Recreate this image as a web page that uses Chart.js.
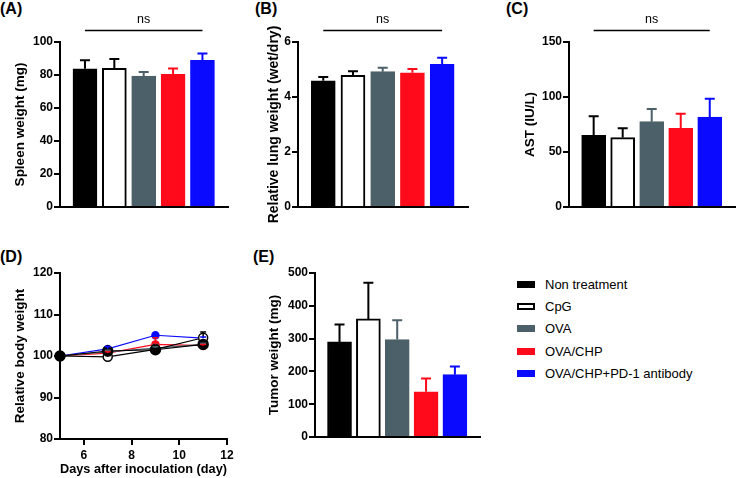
<!DOCTYPE html>
<html>
<head>
<meta charset="utf-8">
<script src="https://cdn.jsdelivr.net/npm/chart.js@4.4.0/dist/chart.umd.min.js"></script>
<style>
  body { margin: 0; background: #fff; width: 737px; height: 478px; position: relative; overflow: hidden; font-family: 'Liberation Sans', Arial, sans-serif; }
  canvas { position: absolute; }
  .tag { position: absolute; font-weight: bold; font-size: 16px; line-height: 18px; color: #000; }
  .legend { position: absolute; left: 517px; top: 273px; font-size: 13px; color: #000; }
  .legend .row { height: 22.3px; display: flex; align-items: center; }
  .legend .box { width: 18px; height: 7px; margin-right: 10px; box-sizing: border-box; }
</style>
</head>
<body>
<div class="tag" style="left:0;top:0">(A)</div>
<div class="tag" style="left:255px;top:0">(B)</div>
<div class="tag" style="left:506px;top:0">(C)</div>
<div class="tag" style="left:0;top:248px">(D)</div>
<div class="tag" style="left:253px;top:248px">(E)</div>
<canvas id="chartA"></canvas>
<canvas id="chartB"></canvas>
<canvas id="chartC"></canvas>
<canvas id="chartD"></canvas>
<canvas id="chartE"></canvas>
<div class="legend" id="legend"></div>
<script>
const groups = ['Non treatment', 'CpG', 'OVA', 'OVA/CHP', 'OVA/CHP+PD-1 antibody'];
const fills = ['#000000', '#ffffff', '#4c6069', '#ff0a1a', '#0a0aff'];
const edges = ['#000000', '#000000', '#4c6069', '#ff0a1a', '#0a0aff'];

// (A) spleen weight, (B) lung wet/dry, (C) AST, (E) tumor weight: mean and upper SD
const spleen = [83.8, 84.0, 79.4, 80.4, 88.9];
const spleenErr = [5.1, 5.7, 2.4, 3.6, 4.2];
const lung = [4.59, 4.79, 4.92, 4.88, 5.19];
const lungErr = [0.14, 0.15, 0.14, 0.14, 0.24];
const ast = [65.2, 63.1, 77.6, 71.5, 81.8];
const astErr = [17.2, 8.4, 11.4, 13.3, 16.6];
const tumor = [290, 360, 297, 138, 190];
const tumorErr = [53, 110, 59, 40, 25];

// (D) relative body weight by day
const days = [5, 7, 9, 11];
const dayTicks = [6, 8, 10, 12];
const bwNon = [100, 101.2, 101.5, 102.8];
const bwCpg = [100, 99.8, 101.6, 104.4];
const bwOva = [100, 101.0, 101.9, 102.8];
const bwChp = [100, 100.7, 102.8, 102.5];
const bwPd1 = [100, 101.7, 105.0, 104.3];
const bwNonErr = [0, 0.8, 0.4, 0.3];
const bwCpgErr = [0, 0.3, 0.3, 1.4];
const bwOvaErr = [0, 0.4, 0.3, 0.3];
const bwChpErr = [0, 0.3, 1.6, 0.3];
const bwPd1Err = [0, 0.5, 0.3, 0.3];

const bold = (size) => ({ family: "'Liberation Sans', Arial, sans-serif", weight: 'bold', size });

const errorBars = {
  id: 'errorBars',
  afterDatasetsDraw(chart) {
    const { ctx } = chart;
    const y = chart.scales.y;
    chart.data.datasets.forEach((ds, di) => {
      if (!ds.errors) return;
      const meta = chart.getDatasetMeta(di);
      meta.data.forEach((el, i) => {
        const err = ds.errors[i];
        if (!err) return;
        const v = typeof ds.data[i] === 'object' ? ds.data[i].y : ds.data[i];
        const top = y.getPixelForValue(v + err);
        const col = Array.isArray(ds.errColor) ? ds.errColor[i] : ds.errColor;
        ctx.save();
        ctx.strokeStyle = col;
        ctx.lineWidth = ds.errWidth || 2;
        ctx.beginPath();
        ctx.moveTo(el.x, el.y);
        ctx.lineTo(el.x, top);
        ctx.moveTo(el.x - ds.capHalf, top);
        ctx.lineTo(el.x + ds.capHalf, top);
        ctx.stroke();
        ctx.restore();
      });
    });
  },
};

const nsLine = {
  id: 'nsLine',
  afterDraw(chart) {
    const { ctx, chartArea } = chart;
    const x = chart.scales.x;
    const x0 = x.getPixelForValue(0);
    const x1 = x.getPixelForValue(4);
    const yy = chartArea.top - 11.5;
    ctx.save();
    ctx.strokeStyle = '#000';
    ctx.lineWidth = 1.5;
    ctx.beginPath();
    ctx.moveTo(x0, yy);
    ctx.lineTo(x1, yy);
    ctx.stroke();
    ctx.fillStyle = '#000';
    ctx.font = "12.5px 'Liberation Sans', Arial, sans-serif";
    ctx.textAlign = 'center';
    ctx.textBaseline = 'middle';
    ctx.fillText('ns', (x0 + x1) / 2, yy - 10.5);
    ctx.restore();
  },
};

function place(id, box) {
  const c = document.getElementById(id);
  c.width = box.w;
  c.height = box.h;
  c.style.left = box.x + 'px';
  c.style.top = box.y + 'px';
  return c;
}

function yAxis(box, area, max, step, title, titleSize, titlePad) {
  return {
    min: box.yMin || 0,
    max,
    ticks: { stepSize: step, color: '#000', font: bold(12), padding: 1 },
    grid: { drawOnChartArea: false, color: '#000', lineWidth: 2, tickLength: 6 },
    border: { display: true, color: '#000', width: 2 },
    title: { display: true, text: title, color: '#000', font: bold(titleSize), padding: { top: titlePad, bottom: 0 } },
    afterFit: (s) => { s.width = area.l - box.x; },
  };
}

function barPanel(id, box, area, values, errs, max, step, title, titleSize, titlePad, ns) {
  const canvas = place(id, box);
  return new Chart(canvas, {
    type: 'bar',
    data: {
      datasets: [{
        data: values.map((v, i) => ({ x: i, y: v })),
        backgroundColor: fills,
        borderColor: edges,
        borderWidth: 2,
        barThickness: 24,
        errors: errs,
        errColor: edges,
        capHalf: 5,
      }],
    },
    options: {
      responsive: false,
      animation: false,
      layout: { padding: { top: area.t - box.y, right: box.x + box.w - area.r, left: 0, bottom: 0 } },
      plugins: { legend: { display: false }, tooltip: { enabled: false } },
      scales: {
        x: {
          type: 'linear', min: -0.85, max: 4.87, offset: false,
          ticks: { display: false },
          grid: { display: false, offset: false },
          border: { display: true, color: '#000', width: 2 },
          afterFit: (s) => { s.height = box.y + box.h - area.b; },
        },
        y: yAxis(box, area, max, step, title, titleSize, titlePad),
      },
    },
    plugins: ns ? [errorBars, nsLine] : [errorBars],
  });
}

barPanel('chartA', { x: 0, y: 0, w: 245, h: 230 }, { l: 60, r: 228, t: 42, b: 207 },
  spleen, spleenErr, 100, 20, 'Spleen weight (mg)', 13.5, 12.5, true);
barPanel('chartB', { x: 245, y: 0, w: 245, h: 230 }, { l: 298, r: 468, t: 42, b: 207 },
  lung, lungErr, 6, 2, 'Relative lung weight (wet/dry)', 14, 20.5, true);
barPanel('chartC', { x: 490, y: 0, w: 247, h: 230 }, { l: 569, r: 735, t: 42, b: 207 },
  ast, astErr, 150, 50, 'AST (IU/L)', 13.5, 32, true);
barPanel('chartE', { x: 245, y: 230, w: 245, h: 248 }, { l: 315, r: 480, t: 273, b: 437 },
  tumor, tumorErr, 500, 100, 'Tumor weight (mg)', 13.5, 21, false);

// (D) line panel
const lineSeries = [
  { vals: bwNon, errs: bwNonErr, line: '#000000', fill: '#000000', edge: '#000000', r: 5 },
  { vals: bwCpg, errs: bwCpgErr, line: '#000000', fill: '#ffffff', edge: '#000000', r: 4.5 },
  { vals: bwOva, errs: bwOvaErr, line: '#4c6069', fill: '#4c6069', edge: '#4c6069', r: 4 },
  { vals: bwChp, errs: bwChpErr, line: '#ff0a1a', fill: '#ff0a1a', edge: '#ff0a1a', r: 3.5 },
  { vals: bwPd1, errs: bwPd1Err, line: '#0a0aff', fill: '#0a0aff', edge: '#0a0aff', r: 3.5 },
];
const boxD = { x: 0, y: 230, w: 245, h: 248, yMin: 80 };
const areaD = { l: 60, r: 227, t: 273, b: 439 };
new Chart(place('chartD', boxD), {
  type: 'line',
  data: {
    datasets: lineSeries.map((s, i) => ({
      label: groups[i],
      data: days.map((d, j) => ({ x: d, y: s.vals[j] })),
      borderColor: s.line,
      borderWidth: 1.2,
      pointRadius: s.r,
      pointBackgroundColor: s.fill,
      pointBorderColor: s.edge,
      pointBorderWidth: 1.5,
      clip: false,
      errors: s.errs,
      errColor: s.edge,
      errWidth: 1.5,
      capHalf: 3,
    })),
  },
  options: {
    responsive: false,
    animation: false,
    layout: { padding: { top: areaD.t - boxD.y, right: boxD.x + boxD.w - areaD.r, left: 0, bottom: 0 } },
    plugins: { legend: { display: false }, tooltip: { enabled: false } },
    scales: {
      x: {
        type: 'linear', min: 5, max: 12,
        afterBuildTicks: (s) => { s.ticks = dayTicks.map((v) => ({ value: v })); },
        ticks: { color: '#000', font: bold(12), padding: 3, maxRotation: 0, autoSkip: false },
        grid: { drawOnChartArea: false, color: '#000', lineWidth: 2, tickLength: 6 },
        border: { display: true, color: '#000', width: 2 },
        title: { display: true, text: 'Days after inoculation (day)', color: '#000', font: bold(13.5), padding: { top: 0, bottom: 1 } },
        afterFit: (s) => { s.height = boxD.y + boxD.h - areaD.b; },
      },
      y: yAxis(boxD, areaD, 120, 10, 'Relative body weight', 13.5, 12.5),
    },
  },
  plugins: [errorBars],
});

document.getElementById('legend').innerHTML = groups.map((g, i) =>
  `<div class="row"><span class="box" style="background:${fills[i]};border:${i === 1 ? '2px solid #000' : 'none'}"></span>${g}</div>`
).join('');
</script>
</body>
</html>
